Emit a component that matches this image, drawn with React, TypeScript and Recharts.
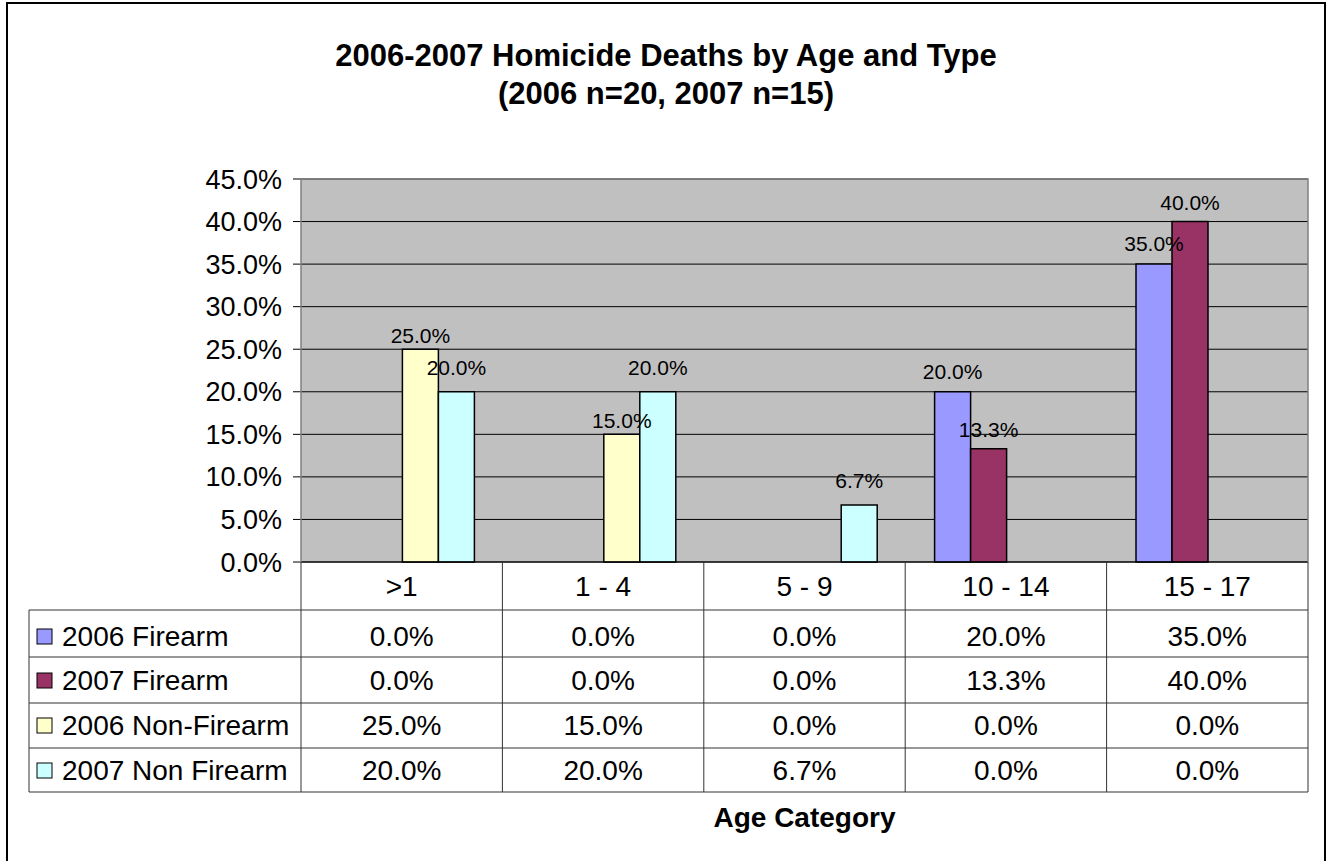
import React from "react";
import {
  BarChart,
  Bar,
  XAxis,
  YAxis,
  CartesianGrid,
  LabelList
} from "recharts";

const categories = [">1", "1 - 4", "5 - 9", "10 - 14", "15 - 17"];
const firearm2006 = [0, 0, 0, 20, 35];
const firearm2007 = [0, 0, 0, 13.3, 40];
const nonFirearm2006 = [25, 15, 0, 0, 0];
const nonFirearm2007 = [20, 20, 6.7, 0, 0];
const seriesNames = ["2006 Firearm", "2007 Firearm", "2006 Non-Firearm", "2007 Non Firearm"];
const yTicks = [0, 5, 10, 15, 20, 25, 30, 35, 40, 45];

const seriesValues = [firearm2006, firearm2007, nonFirearm2006, nonFirearm2007];
const seriesKeys = ["f06", "f07", "n06", "n07"];
const colors = ["#9999FF", "#993366", "#FFFFCC", "#CCFFFF"];
const labelOffsets = [13, 12, 6, 17];

const data = categories.map((name, i) => ({
  name,
  f06: firearm2006[i],
  f07: firearm2007[i],
  n06: nonFirearm2006[i],
  n07: nonFirearm2007[i]
}));

const FONT = "'Liberation Sans', Arial, sans-serif";
const W = 1334;
const H = 861;
const PLOT_LEFT = 301;
const PLOT_TOP = 179;
const PLOT_RIGHT = 1308;
const PLOT_BOTTOM = 562;
const TABLE_LEFT = 29;
// offsets below the category axis line
const ROW_LINES = [48, 95, 141, 186, 230];
const ROW_TEXT = [84, 128, 173, 218];

const pct = (v: number) => `${v.toFixed(1)}%`;

const TableTick = (props: any) => {
  const { x, y, payload, index } = props;
  const band = (PLOT_RIGHT - PLOT_LEFT) / categories.length;
  const lineColor = "#333";
  return (
    <g fontFamily={FONT} fontSize={28} fill="#000">
      <text x={x} y={y + 34} textAnchor="middle">{payload.value}</text>
      {seriesValues.map((vals, i) => (
        <text key={i} x={x} y={y + ROW_TEXT[i]} textAnchor="middle">
          {pct(vals[index])}
        </text>
      ))}
      <line x1={x + band / 2} x2={x + band / 2} y1={y} y2={y + ROW_LINES[4]} stroke={lineColor} />
      {index === 0 && (
        <g>
          <line x1={x - band / 2} x2={x - band / 2} y1={y} y2={y + ROW_LINES[4]} stroke={lineColor} />
          <line x1={TABLE_LEFT} x2={TABLE_LEFT} y1={y + ROW_LINES[0]} y2={y + ROW_LINES[4]} stroke={lineColor} />
          {ROW_LINES.map((r, i) => (
            <line key={i} x1={TABLE_LEFT} x2={PLOT_RIGHT} y1={y + r} y2={y + r} stroke={lineColor} />
          ))}
          {seriesNames.map((s, i) => (
            <g key={s}>
              <rect x={TABLE_LEFT + 8} y={y + ROW_TEXT[i] - 17} width={15} height={15}
                fill={colors[i]} stroke="#000" strokeWidth={1} />
              <text x={TABLE_LEFT + 33} y={y + ROW_TEXT[i]} textAnchor="start">{s}</text>
            </g>
          ))}
        </g>
      )}
    </g>
  );
};

export default function App() {
  return (
    <div style={{ position: "relative", width: W, height: H, background: "#fff" }}>
      <style>{`body{margin:0}`}</style>
      <BarChart
        width={W}
        height={H}
        data={data}
        margin={{ top: PLOT_TOP, right: W - PLOT_RIGHT, bottom: H - PLOT_BOTTOM - 30, left: PLOT_LEFT - 100 }}
        barCategoryGap="14.6%"
        barGap={0}
      >
        <CartesianGrid vertical={false} stroke="#000" fill="#C0C0C0" fillOpacity={1} />
        <XAxis
          dataKey="name"
          height={30}
          interval={0}
          tickSize={0}
          tickMargin={0}
          tickLine={false}
          axisLine={{ stroke: "#000" }}
          tick={TableTick}
        />
        <YAxis
          width={100}
          domain={[0, 45]}
          ticks={yTicks}
          interval={0}
          tickFormatter={pct}
          tickSize={8}
          tickMargin={11}
          axisLine={false}
          tickLine={{ stroke: "#000" }}
          tick={{ fontFamily: FONT, fontSize: 27, fill: "#000" }}
        />
        {seriesKeys.map((k, i) => (
          <Bar key={k} dataKey={k} name={seriesNames[i]} fill={colors[i]} stroke="#000"
            strokeWidth={1.5} isAnimationActive={false}>
            <LabelList
              dataKey={k}
              position="top"
              offset={labelOffsets[i]}
              formatter={(v: any) => (Number(v) ? pct(Number(v)) : "")}
              style={{ fontFamily: FONT, fontSize: 21, fill: "#000" }}
            />
          </Bar>
        ))}
      </BarChart>
      <svg width={W} height={H} style={{ position: "absolute", left: 0, top: 0, pointerEvents: "none" }}>
        <rect x={7} y={3} width={1318} height={900} fill="none" stroke="#000" strokeWidth={2} />
        <text x={666} y={66} textAnchor="middle" fontFamily={FONT} fontWeight="bold" fontSize={31}>
          2006-2007 Homicide Deaths by Age and Type
        </text>
        <text x={666} y={104} textAnchor="middle" fontFamily={FONT} fontWeight="bold" fontSize={31}>
          (2006 n=20, 2007 n=15)
        </text>
        <polyline
          points={`${PLOT_LEFT},${PLOT_BOTTOM} ${PLOT_LEFT},${PLOT_TOP} ${PLOT_RIGHT},${PLOT_TOP} ${PLOT_RIGHT},${PLOT_BOTTOM}`}
          fill="none" stroke="#808080" strokeWidth={1.5} />
        <text x={(PLOT_LEFT + PLOT_RIGHT) / 2} y={827} textAnchor="middle" fontFamily={FONT}
          fontWeight="bold" fontSize={28}>
          Age Category
        </text>
      </svg>
    </div>
  );
}
